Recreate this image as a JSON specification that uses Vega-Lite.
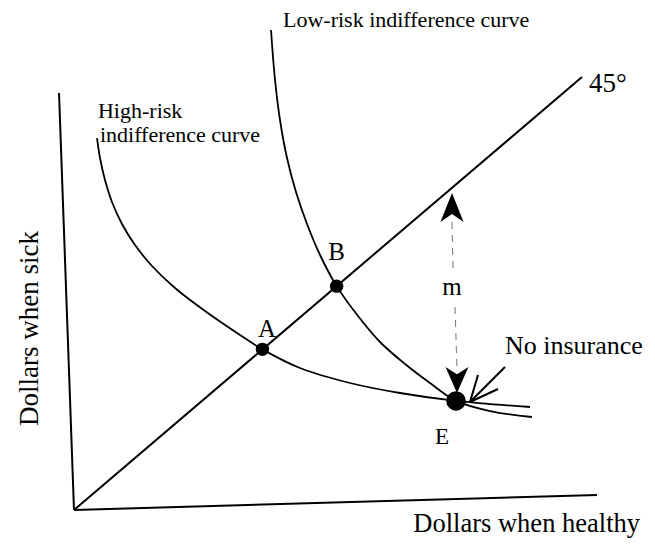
{
  "$schema": "https://vega.github.io/schema/vega-lite/v6.json",
  "width": 655,
  "height": 548,
  "autosize": {"type": "fit", "contains": "padding"},
  "padding": 0,
  "background": "white",
  "view": {"stroke": null},
  "datasets": {
    "curves": [
      {"curve": "High-risk", "order": 1, "healthy": 4.53, "sick": 85.91},
      {"curve": "High-risk", "order": 2, "healthy": 5.12, "sick": 81.29},
      {"curve": "High-risk", "order": 3, "healthy": 6.10, "sick": 76.21},
      {"curve": "High-risk", "order": 4, "healthy": 7.48, "sick": 71.13},
      {"curve": "High-risk", "order": 5, "healthy": 9.45, "sick": 66.05},
      {"curve": "High-risk", "order": 6, "healthy": 12.01, "sick": 61.2},
      {"curve": "High-risk", "order": 7, "healthy": 15.35, "sick": 56.35},
      {"curve": "High-risk", "order": 8, "healthy": 19.88, "sick": 51.27},
      {"curve": "High-risk", "order": 9, "healthy": 25.79, "sick": 45.96},
      {"curve": "High-risk", "order": 10, "healthy": 32.68, "sick": 40.42},
      {"curve": "High-risk", "order": 11, "healthy": 37.1, "sick": 37.1},
      {"curve": "High-risk", "order": 12, "healthy": 44.49, "sick": 32.79},
      {"curve": "High-risk", "order": 13, "healthy": 54.33, "sick": 29.33},
      {"curve": "High-risk", "order": 14, "healthy": 64.17, "sick": 27.02},
      {"curve": "High-risk", "order": 15, "healthy": 75.2, "sick": 25.2},
      {"curve": "High-risk", "order": 16, "healthy": 89.76, "sick": 23.79},
      {"curve": "Low-risk", "order": 1, "healthy": 38.78, "sick": 110.85},
      {"curve": "Low-risk", "order": 2, "healthy": 39.57, "sick": 99.31},
      {"curve": "Low-risk", "order": 3, "healthy": 40.55, "sick": 90.07},
      {"curve": "Low-risk", "order": 4, "healthy": 41.93, "sick": 81.29},
      {"curve": "Low-risk", "order": 5, "healthy": 43.70, "sick": 73.44},
      {"curve": "Low-risk", "order": 6, "healthy": 45.87, "sick": 66.05},
      {"curve": "Low-risk", "order": 7, "healthy": 48.43, "sick": 58.89},
      {"curve": "Low-risk", "order": 8, "healthy": 51.7, "sick": 51.7},
      {"curve": "Low-risk", "order": 9, "healthy": 55.91, "sick": 44.8},
      {"curve": "Low-risk", "order": 10, "healthy": 60.24, "sick": 38.8},
      {"curve": "Low-risk", "order": 11, "healthy": 65.16, "sick": 33.72},
      {"curve": "Low-risk", "order": 12, "healthy": 70.08, "sick": 29.33},
      {"curve": "Low-risk", "order": 13, "healthy": 75.2, "sick": 25.2},
      {"curve": "Low-risk", "order": 14, "healthy": 81.89, "sick": 22.86},
      {"curve": "Low-risk", "order": 15, "healthy": 90.16, "sick": 21.48}
    ],
    "lines": [
      {"part": "y axis", "healthy": 0, "sick": 0, "healthy2": -2.95, "sick2": 96.3},
      {"part": "x axis", "healthy": 0, "sick": 0, "healthy2": 102.95, "sick2": 3.46},
      {"part": "45 degree line", "healthy": 0, "sick": 0, "healthy2": 100, "sick2": 100},
      {"part": "arrow shaft", "healthy": 84.84, "sick": 33.03, "healthy2": 77.95, "sick2": 24.94},
      {"part": "arrow wing 1", "healthy": 77.95, "sick": 24.94, "healthy2": 79.53, "sick2": 31.18},
      {"part": "arrow wing 2", "healthy": 77.95, "sick": 24.94, "healthy2": 83.46, "sick2": 27.94}
    ],
    "dashes": [
      {"part": "m upper", "healthy": 74.41, "sick": 66.51, "healthy2": 74.61, "sick2": 55.43},
      {"part": "m lower", "healthy": 75.0, "sick": 46.88, "healthy2": 75.39, "sick2": 33.03}
    ],
    "heads": [
      {"dir": "up", "healthy": 74.41, "sick": 69.86},
      {"dir": "down", "healthy": 75.39, "sick": 30.02}
    ],
    "dots": [
      {"point": "A", "healthy": 37.1, "sick": 37.1},
      {"point": "B", "healthy": 51.7, "sick": 51.7},
      {"point": "E", "healthy": 75.2, "sick": 25.2}
    ],
    "labels": [
      {"group": "curve", "label": "Low-risk indifference curve", "healthy": 41.14, "sick": 111.5},
      {"group": "curve", "label": "High-risk", "healthy": 4.72, "sick": 90.53},
      {"group": "curve", "label": "indifference curve", "healthy": 5.1, "sick": 84.99},
      {"group": "point", "label": "A", "healthy": 37.99, "sick": 39.95},
      {"group": "point", "label": "B", "healthy": 51.67, "sick": 57.74},
      {"group": "point", "label": "m", "healthy": 74.41, "sick": 49.65},
      {"group": "pointE", "label": "E", "healthy": 72.44, "sick": 15.24},
      {"group": "deg", "label": "45°", "healthy": 101.38, "sick": 96.54},
      {"group": "note", "label": "No insurance", "healthy": 84.84, "sick": 36.03},
      {"group": "xtitle", "label": "Dollars when healthy", "healthy": 111.42, "sick": -5.08},
      {"group": "ytitle", "label": "Dollars when sick", "healthy": -7.09, "sick": 41.92}
    ]
  },
  "encoding": {
    "x": {"field": "healthy", "type": "quantitative", "axis": null,
          "scale": {"domain": [-14.567, 114.37], "nice": false, "zero": false}},
    "y": {"field": "sick", "type": "quantitative", "axis": null,
          "scale": {"domain": [-8.776, 117.783], "nice": false, "zero": false}}
  },
  "layer": [
    {
      "data": {"name": "lines"},
      "mark": {"type": "rule", "color": "black", "strokeWidth": 2},
      "encoding": {"x2": {"field": "healthy2"}, "y2": {"field": "sick2"}}
    },
    {
      "data": {"name": "dashes"},
      "mark": {"type": "rule", "color": "#808080", "strokeWidth": 1.1, "strokeDash": [7, 6]},
      "encoding": {"x2": {"field": "healthy2"}, "y2": {"field": "sick2"}}
    },
    {
      "data": {"name": "curves"},
      "mark": {"type": "line", "color": "black", "strokeWidth": 1.8, "interpolate": "catmull-rom"},
      "encoding": {"detail": {"field": "curve"}, "order": {"field": "order", "type": "quantitative"}}
    },
    {
      "data": {"name": "heads"},
      "transform": [{"filter": "datum.dir === 'up'"}],
      "mark": {"type": "point", "filled": true, "color": "black", "opacity": 1, "size": 841,
               "shape": "M0,-1L-0.8,1L0,0.45L0.8,1Z"}
    },
    {
      "data": {"name": "heads"},
      "transform": [{"filter": "datum.dir === 'down'"}],
      "mark": {"type": "point", "filled": true, "color": "black", "opacity": 1, "size": 676,
               "shape": "M0,1L-0.88,-1L0,-0.45L0.88,-1Z"}
    },
    {
      "data": {"name": "dots"},
      "transform": [{"filter": "datum.point !== 'E'"}],
      "mark": {"type": "circle", "color": "black", "opacity": 1, "size": 180}
    },
    {
      "data": {"name": "dots"},
      "transform": [{"filter": "datum.point === 'E'"}],
      "mark": {"type": "circle", "color": "black", "opacity": 1, "size": 380}
    },
    {
      "data": {"name": "labels"},
      "transform": [{"filter": "datum.group === 'curve'"}],
      "mark": {"type": "text", "font": "Liberation Serif", "fontSize": 22, "align": "left", "baseline": "alphabetic", "color": "black"},
      "encoding": {"text": {"field": "label"}}
    },
    {
      "data": {"name": "labels"},
      "transform": [{"filter": "datum.group === 'point'"}],
      "mark": {"type": "text", "font": "Liberation Serif", "fontSize": 25, "align": "center", "baseline": "alphabetic", "color": "black"},
      "encoding": {"text": {"field": "label"}}
    },
    {
      "data": {"name": "labels"},
      "transform": [{"filter": "datum.group === 'pointE'"}],
      "mark": {"type": "text", "font": "Liberation Serif", "fontSize": 23, "align": "center", "baseline": "alphabetic", "color": "black"},
      "encoding": {"text": {"field": "label"}}
    },
    {
      "data": {"name": "labels"},
      "transform": [{"filter": "datum.group === 'deg'"}],
      "mark": {"type": "text", "font": "Liberation Serif", "fontSize": 27, "align": "left", "baseline": "alphabetic", "color": "black"},
      "encoding": {"text": {"field": "label"}}
    },
    {
      "data": {"name": "labels"},
      "transform": [{"filter": "datum.group === 'note'"}],
      "mark": {"type": "text", "font": "Liberation Serif", "fontSize": 26, "align": "left", "baseline": "alphabetic", "color": "black"},
      "encoding": {"text": {"field": "label"}}
    },
    {
      "data": {"name": "labels"},
      "transform": [{"filter": "datum.group === 'xtitle'"}],
      "mark": {"type": "text", "font": "Liberation Serif", "fontSize": 26.5, "align": "right", "baseline": "alphabetic", "color": "black"},
      "encoding": {"text": {"field": "label"}}
    },
    {
      "data": {"name": "labels"},
      "transform": [{"filter": "datum.group === 'ytitle'"}],
      "mark": {"type": "text", "font": "Liberation Serif", "fontSize": 27, "align": "center", "baseline": "alphabetic", "angle": 270, "color": "black"},
      "encoding": {"text": {"field": "label"}}
    }
  ]
}
